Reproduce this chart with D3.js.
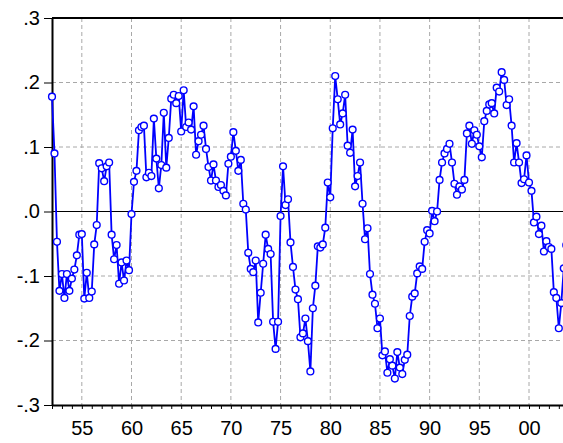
<!DOCTYPE html>
<html>
<head>
<meta charset="utf-8">
<script src="https://cdn.jsdelivr.net/npm/d3@7"></script>
<style>
body { margin: 0; background: #fff; }
svg { display: block; font-family: "Liberation Sans", Arial, sans-serif; }
</style>
</head>
<body>
<svg></svg>
<script>
// quarterly series, first value is 1952Q1
let startYear = 1952;

let values1950s = [
    0.178, 0.090, -0.047, -0.123,
    -0.097, -0.134, -0.097, -0.123,
    -0.104, -0.090, -0.068, -0.036,
    -0.035, -0.135, -0.095, -0.134,
    -0.124, -0.051, -0.021, 0.075,
    0.067, 0.047, 0.070, 0.076,
    -0.036, -0.074, -0.052, -0.112,
    -0.079, -0.107, -0.076, -0.091
];
let values1960s = [
    -0.004, 0.046, 0.063, 0.126,
    0.131, 0.133, 0.053, 0.060,
    0.055, 0.144, 0.082, 0.036,
    0.072, 0.153, 0.068, 0.114,
    0.175, 0.181, 0.168, 0.179,
    0.124, 0.188, 0.131, 0.138,
    0.127, 0.163, 0.088, 0.109,
    0.119, 0.133, 0.097, 0.069,
    0.048, 0.073, 0.048, 0.038,
    0.041, 0.032, 0.025, 0.074
];
let values1970s = [
    0.085, 0.123, 0.094, 0.063,
    0.080, 0.012, 0.003, -0.064,
    -0.089, -0.094, -0.076, -0.172,
    -0.126, -0.081, -0.036, -0.058,
    -0.066, -0.171, -0.213, -0.171,
    -0.007, 0.070, 0.010, 0.019,
    -0.048, -0.086, -0.121, -0.136,
    -0.195, -0.189, -0.166, -0.201,
    -0.248, -0.150, -0.115, -0.054,
    -0.056, -0.051, -0.025, 0.045
];
let values1980s = [
    0.022, 0.129, 0.210, 0.174,
    0.135, 0.152, 0.181, 0.102,
    0.091, 0.127, 0.039, 0.055,
    0.076, 0.012, -0.043, -0.026,
    -0.097, -0.129, -0.143, -0.181,
    -0.166, -0.223, -0.217, -0.250,
    -0.229, -0.239, -0.259, -0.218,
    -0.242, -0.252, -0.230, -0.222,
    -0.162, -0.132, -0.127, -0.096,
    -0.085, -0.089, -0.047, -0.029
];
let values1990s = [
    -0.034, 0.001, -0.015, 0.000,
    0.049, 0.076, 0.090, 0.097,
    0.105, 0.076, 0.043, 0.026,
    0.039, 0.034, 0.049, 0.121,
    0.133, 0.105, 0.126, 0.119,
    0.101, 0.084, 0.140, 0.156,
    0.166, 0.168, 0.152, 0.192,
    0.186, 0.216, 0.204, 0.165,
    0.174, 0.133, 0.076, 0.106,
    0.076, 0.044, 0.050, 0.087
];
let values2000s = [
    0.045, 0.032, -0.017, -0.008,
    -0.035, -0.022, -0.062, -0.046,
    -0.055, -0.058, -0.125, -0.134,
    -0.181, -0.142, -0.088, -0.052
];

let yTicks = [-0.3, -0.2, -0.1, 0, 0.1, 0.2, 0.3];
let yTickLabels = ['-.3', '-.2', '-.1', '.0', '.1', '.2', '.3'];
let xLabelYears = [1955, 1960, 1965, 1970, 1975, 1980, 1985, 1990, 1995, 2000];
let xTickLabels = ['55', '60', '65', '70', '75', '80', '85', '90', '95', '00'];

let width = 563;
let height = 443;
let plotLeft = 52;
let plotTop = 18;
let plotBottom = 405;
let lastYear = 2004;

let values = [].concat(values1950s, values1960s, values1970s, values1980s, values1990s, values2000s);
let points = values.map((v, i) => [startYear + i / 4, v]);

let svg = d3.select('svg').attr('width', width).attr('height', height);

let xScale = d3.scaleLinear()
    .domain([startYear, lastYear])
    .range([plotLeft, plotLeft + (lastYear - startYear) * 9.9375]);
let yScale = d3.scaleLinear()
    .domain([-0.3, 0.3])
    .range([plotBottom, plotTop]);

let plotRight = xScale(lastYear);

// dashed grid
let grid = svg.append('g')
    .attr('stroke', '#a8a8a8')
    .attr('stroke-width', 1)
    .attr('stroke-dasharray', '4,3');

grid.selectAll('.hgrid')
    .data(yTicks.filter(d => Math.abs(d) > 0.01 && Math.abs(d) < 0.29))
    .enter()
    .append('line')
    .attr('x1', plotLeft).attr('x2', plotRight)
    .attr('y1', d => yScale(d)).attr('y2', d => yScale(d));

grid.selectAll('.vgrid')
    .data(xLabelYears)
    .enter()
    .append('line')
    .attr('x1', d => xScale(d)).attr('x2', d => xScale(d))
    .attr('y1', plotTop).attr('y2', plotBottom);

// zero line
svg.append('line')
    .attr('x1', plotLeft).attr('x2', plotRight)
    .attr('y1', yScale(0)).attr('y2', yScale(0))
    .attr('stroke', '#000')
    .attr('stroke-width', 1);

// frame top
svg.append('line')
    .attr('x1', plotLeft).attr('x2', plotRight)
    .attr('y1', plotTop).attr('y2', plotTop)
    .attr('stroke', '#000')
    .attr('stroke-width', 2);

let yAxis = d3.axisLeft(yScale)
    .tickValues(yTicks)
    .tickFormat((d, i) => yTickLabels[i])
    .tickSize(8)
    .tickSizeOuter(0)
    .tickPadding(4);

let allYears = d3.range(startYear, lastYear + 1);
let xAxis = d3.axisBottom(xScale)
    .tickValues(allYears)
    .tickFormat(d => {
        let k = xLabelYears.indexOf(d);
        return k >= 0 ? xTickLabels[k] : '';
    })
    .tickSize(4)
    .tickSizeOuter(0)
    .tickPadding(12);

let gy = svg.append('g')
    .attr('transform', 'translate(' + plotLeft + ',0)')
    .call(yAxis);
let gx = svg.append('g')
    .attr('transform', 'translate(0,' + plotBottom + ')')
    .call(xAxis);

[gx, gy].forEach(g => {
    g.select('.domain').attr('stroke', '#000').attr('stroke-width', 2);
    g.selectAll('.tick line').attr('stroke', '#000').attr('stroke-width', 1);
    g.selectAll('.tick text')
        .attr('fill', '#000')
        .attr('font-size', 20)
        .attr('font-family', '"Liberation Sans", Arial, sans-serif');
});

// series
let line = d3.line()
    .x(d => xScale(d[0]))
    .y(d => yScale(d[1]));

svg.append('path')
    .datum(points)
    .attr('d', line)
    .attr('fill', 'none')
    .attr('stroke', '#0000ff')
    .attr('stroke-width', 1.8)
    .attr('stroke-linejoin', 'round');

svg.selectAll('circle')
    .data(points)
    .enter()
    .append('circle')
    .attr('cx', d => xScale(d[0]))
    .attr('cy', d => yScale(d[1]))
    .attr('r', 3.4)
    .attr('fill', '#fff')
    .attr('stroke', '#0000ff')
    .attr('stroke-width', 1.4);
</script>
</body>
</html>
